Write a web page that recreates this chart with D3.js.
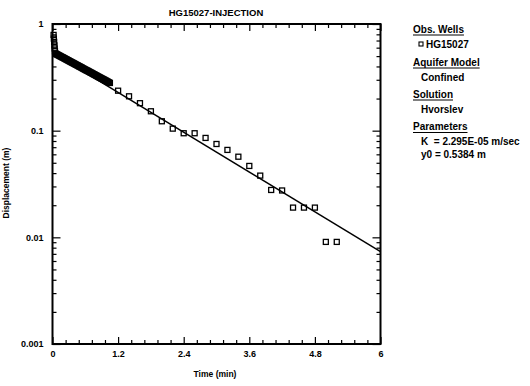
<!DOCTYPE html>
<html><head><meta charset="utf-8">
<script src="https://cdn.jsdelivr.net/npm/d3@7"></script>
<style>
html,body{margin:0;padding:0;background:#fff;}
svg text{font-family:"Liberation Sans",Arial,sans-serif;font-weight:bold;fill:#000;}
</style></head>
<body>
<svg id="c" width="530" height="386"></svg>
<script>
// ---- data ----
const title = "HG15027-INJECTION";
const xLabel = "Time (min)";
const yLabel = "Displacement (m)";
const xTickValues = [0, 1.2, 2.4, 3.6, 4.8, 6];
const xTickLabels = ["0", "1.2", "2.4", "3.6", "4.8", "6"];
const yTickValues = [0.001, 0.01, 0.1, 1];
const yTickLabels = ["0.001", "0.01", "0.1", "1"];
const obsTimes = [0.02, 0.025, 0.03, 0.035, 0.04, 0.045,
  0.050, 0.0625, 0.075, 0.0875, 0.100, 0.1125, 0.125, 0.1375, 0.150, 0.1625,
  0.175, 0.1875, 0.200, 0.2125, 0.225, 0.2375, 0.250, 0.2625, 0.275, 0.2875,
  0.300, 0.3125, 0.325, 0.3375, 0.350, 0.3625, 0.375, 0.3875, 0.400, 0.4125,
  0.425, 0.4375, 0.450, 0.4625, 0.475, 0.4875, 0.500, 0.5125, 0.525, 0.5375,
  0.550, 0.5625, 0.575, 0.5875, 0.600, 0.6125, 0.625, 0.6375, 0.650, 0.6625,
  0.675, 0.6875, 0.700, 0.7125, 0.725, 0.7375, 0.750, 0.7625, 0.775, 0.7875,
  0.800, 0.8125, 0.825, 0.8375, 0.850, 0.8625, 0.875, 0.8875, 0.900, 0.9125,
  0.925, 0.9375, 0.950, 0.9625, 0.975, 0.9875, 1.000, 1.0125, 1.025, 1.0375, 1.050,
  1.2, 1.4, 1.6, 1.8, 2.0, 2.2, 2.4, 2.6, 2.8, 3.0, 3.2, 3.4, 3.6, 3.8,
  4.0, 4.2, 4.4, 4.6, 4.8, 5.0, 5.2];
const obsValues = [0.79, 0.73, 0.68, 0.63, 0.59, 0.555,
  0.530, 0.526, 0.522, 0.517, 0.513, 0.509, 0.505, 0.501, 0.497, 0.493,
  0.489, 0.486, 0.482, 0.478, 0.474, 0.470, 0.467, 0.463, 0.459, 0.456,
  0.452, 0.448, 0.445, 0.441, 0.438, 0.434, 0.431, 0.428, 0.424, 0.421,
  0.417, 0.414, 0.411, 0.408, 0.404, 0.401, 0.398, 0.395, 0.392, 0.389,
  0.385, 0.382, 0.379, 0.376, 0.373, 0.370, 0.367, 0.365, 0.362, 0.359,
  0.356, 0.353, 0.350, 0.348, 0.345, 0.342, 0.339, 0.337, 0.334, 0.331,
  0.329, 0.326, 0.323, 0.321, 0.318, 0.316, 0.313, 0.311, 0.308, 0.306,
  0.304, 0.301, 0.299, 0.296, 0.294, 0.292, 0.289, 0.287, 0.285, 0.282, 0.280,
  0.237, 0.210, 0.181, 0.152, 0.1225, 0.1045, 0.0946, 0.0946, 0.0855, 0.075,
  0.066, 0.057, 0.0467, 0.0379, 0.0278, 0.0275, 0.019, 0.019, 0.019, 0.00906, 0.00906];
const fitTimes = [0, 6];
const fitValues = [0.5384, 0.00735];
const legendSections = ["Obs. Wells", "Aquifer Model", "Solution", "Parameters"];
const legendEntries = [["HG15027"], ["Confined"], ["Hvorslev"], ["K  = 2.295E-05 m/sec", "y0 = 0.5384 m"]];

// ---- chart ----
const svg = d3.select("#c");
const L = 52.5, R = 380.5, T = 24, B = 344;
const x = d3.scaleLinear().domain([0, 6]).range([L, R]);
const y = d3.scaleLog().domain([0.001, 1]).range([B, T]);

// minor ticks
const xMinor = d3.range(0, 6.0001, 0.24).filter(v => !xTickValues.some(t => Math.abs(t - v) < 1e-6));
const yMinor = [];
[0.001, 0.01, 0.1].forEach(d => { for (let k = 2; k <= 9; k++) yMinor.push(d * k); });

function strip(g) { g.select(".domain").remove(); g.selectAll("line").attr("stroke", "#000").attr("stroke-width", 1.2); }

// bottom
svg.append("g").attr("transform", `translate(0,${B})`)
  .call(d3.axisBottom(x).tickValues(xTickValues).tickSize(-7).tickPadding(7)
    .tickFormat((d, i) => xTickLabels[i]))
  .call(strip).call(g => g.selectAll("text").attr("font-size", 9));
svg.append("g").attr("transform", `translate(0,${B})`)
  .call(d3.axisBottom(x).tickValues(xMinor).tickSize(-4).tickFormat(""))
  .call(strip);
// top
svg.append("g").attr("transform", `translate(0,${T})`)
  .call(d3.axisTop(x).tickValues(xTickValues).tickSize(-7).tickFormat(""))
  .call(strip);
svg.append("g").attr("transform", `translate(0,${T})`)
  .call(d3.axisTop(x).tickValues(xMinor).tickSize(-4).tickFormat(""))
  .call(strip);
// left
svg.append("g").attr("transform", `translate(${L},0)`)
  .call(d3.axisLeft(y).tickValues(yTickValues).tickSize(-8).tickPadding(9)
    .tickFormat((d, i) => yTickLabels[i]))
  .call(strip).call(g => g.selectAll("text").attr("font-size", 9));
svg.append("g").attr("transform", `translate(${L},0)`)
  .call(d3.axisLeft(y).tickValues(yMinor).tickSize(-4).tickFormat(""))
  .call(strip);
// right
svg.append("g").attr("transform", `translate(${R},0)`)
  .call(d3.axisRight(y).tickValues(yTickValues).tickSize(-8).tickFormat(""))
  .call(strip);
svg.append("g").attr("transform", `translate(${R},0)`)
  .call(d3.axisRight(y).tickValues(yMinor).tickSize(-4).tickFormat(""))
  .call(strip);

// frame
svg.append("rect").attr("x", L).attr("y", T).attr("width", R - L).attr("height", B - T)
  .attr("fill", "none").attr("stroke", "#000").attr("stroke-width", 2);

// fit line
svg.append("path")
  .datum(fitTimes.map((t, i) => [t, fitValues[i]]))
  .attr("d", d3.line().x(d => x(d[0])).y(d => y(d[1])))
  .attr("fill", "none").attr("stroke", "#000").attr("stroke-width", 1.4);

// observations
const s = 5;
svg.append("g").selectAll("rect").data(obsTimes.map((t, i) => [t, obsValues[i]])).join("rect")
  .attr("x", d => x(d[0]) - s / 2).attr("y", d => y(d[1]) - s / 2)
  .attr("width", s).attr("height", s)
  .attr("fill", "none").attr("stroke", "#000").attr("stroke-width", 1.3);

// title and axis labels
svg.append("text").attr("x", 216).attr("y", 15.5).attr("text-anchor", "middle")
  .attr("font-size", 9.5).text(title);
svg.append("text").attr("x", 215).attr("y", 376.5).attr("text-anchor", "middle")
  .attr("font-size", 8.5).text(xLabel);
svg.append("text").attr("transform", "translate(9,183) rotate(-90)").attr("text-anchor", "middle")
  .attr("font-size", 8.5).text(yLabel);

// legend
const legX = 413;
const headY = [32.5, 65.5, 97.5, 130];
const entryY = [[47.5], [80.5], [112.5], [145, 158]];
legendSections.forEach((h, i) => {
  const t = svg.append("text").attr("x", legX).attr("y", headY[i]).attr("font-size", 10).text(h);
  const w = t.node().getComputedTextLength();
  svg.append("line").attr("x1", legX).attr("x2", legX + w).attr("y1", headY[i] + 2.5).attr("y2", headY[i] + 2.5)
    .attr("stroke", "#000").attr("stroke-width", 1);
  legendEntries[i].forEach((e, j) => {
    if (i === 0) {
      svg.append("rect").attr("x", 419).attr("y", entryY[i][j] - 5.5).attr("width", 4).attr("height", 4)
        .attr("fill", "none").attr("stroke", "#000").attr("stroke-width", 1.1);
      svg.append("text").attr("x", 426).attr("y", entryY[i][j]).attr("font-size", 10).text(e);
    } else {
      svg.append("text").attr("x", 421).attr("y", entryY[i][j]).attr("font-size", 10)
        .style("white-space", "pre").text(e);
    }
  });
});
</script>
</body></html>
